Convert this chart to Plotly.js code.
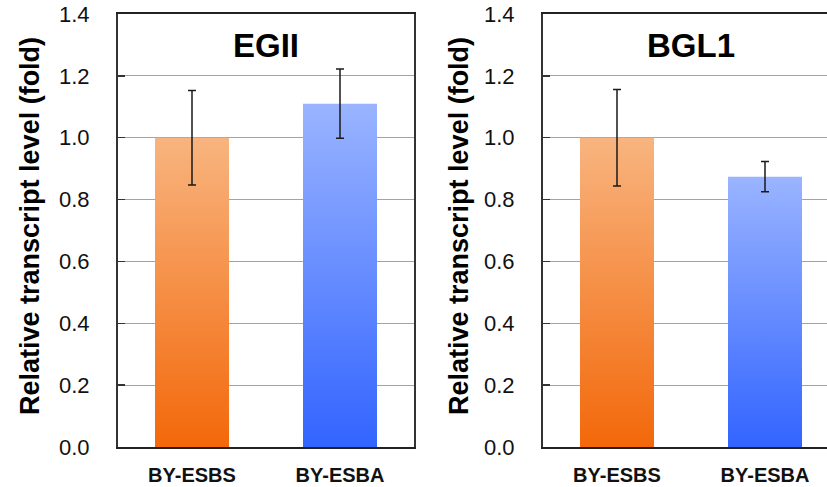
<!DOCTYPE html>
<html>
<head>
<meta charset="utf-8">
<script src="https://cdn.plot.ly/plotly-3.0.1.min.js"></script>
<style>
  html, body { margin: 0; padding: 0; background: #fff; overflow: hidden; width: 827px; height: 487px; }
  #chart { width: 850px; height: 487px; }
</style>
</head>
<body>
<div id="chart"></div>
<script>
// ---- data ----
const categories = ['BY-ESBS', 'BY-ESBA'];
const panelTitles = ['EGII', 'BGL1'];
const egiiValues = [1.0, 1.11];
const egiiErrors = [0.153, 0.112];
const bgl1Values = [1.0, 0.874];
const bgl1Errors = [0.156, 0.049];
const yAxisTitle = 'Relative transcript level (fold)';

// ---- style ----
const W = 850, H = 487;
const FONT = '"Liberation Sans", Arial, Helvetica, sans-serif';
const baseColors = ['#F5904A', '#6E8EFF'];
const gradients = [
  { id: 'gradOrange', top: '#F8B47F', bottom: '#F3680A' },
  { id: 'gradBlue', top: '#9AB4FF', bottom: '#3264FF' }
];

function barTrace(vals, errs, xa, ya) {
  return {
    type: 'bar', x: categories, y: vals, xaxis: xa, yaxis: ya,
    width: 0.5,
    marker: { color: baseColors, line: { width: 0 } },
    error_y: { type: 'data', array: errs, visible: true, color: '#1a1a1a', thickness: 1.5, width: 4 },
    hoverinfo: 'x+y', showlegend: false
  };
}

const data = [
  barTrace(egiiValues, egiiErrors, 'x', 'y'),
  barTrace(bgl1Values, bgl1Errors, 'x2', 'y2')
];

function xAxis(domain, anchor) {
  return {
    domain: domain, anchor: anchor, type: 'category',
    showline: true, mirror: true, linecolor: '#222', linewidth: 2,
    ticks: '', showgrid: false, zeroline: false,
    tickfont: { family: FONT, size: 20, color: '#111', weight: 'bold' },
    ticklabelstandoff: 9
  };
}
function yAxis(anchor) {
  return {
    anchor: anchor, domain: [0, 1], range: [0, 1.4], dtick: 0.2, tick0: 0, tickformat: '.1f',
    ticks: 'inside', ticklen: 7, tickwidth: 1.5, tickcolor: '#333',
    showgrid: true, gridcolor: '#a3a3a3', gridwidth: 1,
    showline: true, mirror: true, linecolor: '#333', linewidth: 2, zeroline: false,
    tickfont: { family: FONT, size: 22, color: '#111' },
    ticklabelstandoff: 22
  };
}

const layout = {
  width: W, height: H,
  margin: { l: 0, r: 0, t: 14, b: 40, pad: 0 },
  paper_bgcolor: '#fff', plot_bgcolor: '#fff',
  font: { family: FONT, color: '#111' },
  xaxis: xAxis([118 / W, 414 / W], 'y'),
  yaxis: yAxis('x'),
  xaxis2: xAxis([543 / W, 839 / W], 'y2'),
  yaxis2: yAxis('x2'),
  bargap: 0.5,
  annotations: [
    { text: panelTitles[0], xref: 'x domain', yref: 'y domain', x: 0.5, y: (447 - 45) / 433, showarrow: false,
      font: { family: FONT, size: 33, color: '#000', weight: 'bold' }, xanchor: 'center', yanchor: 'middle' },
    { text: panelTitles[1], xref: 'x2 domain', yref: 'y2 domain', x: 0.5, y: (447 - 45) / 433, showarrow: false,
      font: { family: FONT, size: 33, color: '#000', weight: 'bold' }, xanchor: 'center', yanchor: 'middle' },
    { text: yAxisTitle, xref: 'paper', yref: 'paper', x: 30 / W, y: (447 - 226) / 433, textangle: -90, showarrow: false,
      font: { family: FONT, size: 27, color: '#000', weight: 'bold' }, xanchor: 'center', yanchor: 'middle' },
    { text: yAxisTitle, xref: 'paper', yref: 'paper', x: 459 / W, y: (447 - 226) / 433, textangle: -90, showarrow: false,
      font: { family: FONT, size: 27, color: '#000', weight: 'bold' }, xanchor: 'center', yanchor: 'middle' }
  ]
};

Plotly.newPlot('chart', data, layout, { displayModeBar: false, staticPlot: true, responsive: false }).then(function (gd) {
  const NS = 'http://www.w3.org/2000/svg';
  const svg = gd.querySelector('svg.main-svg');
  let defs = svg.querySelector('defs');
  if (!defs) { defs = document.createElementNS(NS, 'defs'); svg.insertBefore(defs, svg.firstChild); }
  gradients.forEach(function (g) {
    const lg = document.createElementNS(NS, 'linearGradient');
    lg.setAttribute('id', g.id);
    lg.setAttribute('x1', '0'); lg.setAttribute('y1', '0');
    lg.setAttribute('x2', '0'); lg.setAttribute('y2', '1');
    const s1 = document.createElementNS(NS, 'stop');
    s1.setAttribute('offset', '0'); s1.setAttribute('stop-color', g.top);
    const s2 = document.createElementNS(NS, 'stop');
    s2.setAttribute('offset', '1'); s2.setAttribute('stop-color', g.bottom);
    lg.appendChild(s1); lg.appendChild(s2);
    defs.appendChild(lg);
  });
  gd.querySelectorAll('.barlayer .trace').forEach(function (tr) {
    tr.querySelectorAll('.point').forEach(function (pt, i) {
      const p = pt.querySelector('path');
      if (p) p.style.fill = 'url(#' + gradients[i % gradients.length].id + ')';
    });
  });
});
</script>
</body>
</html>
